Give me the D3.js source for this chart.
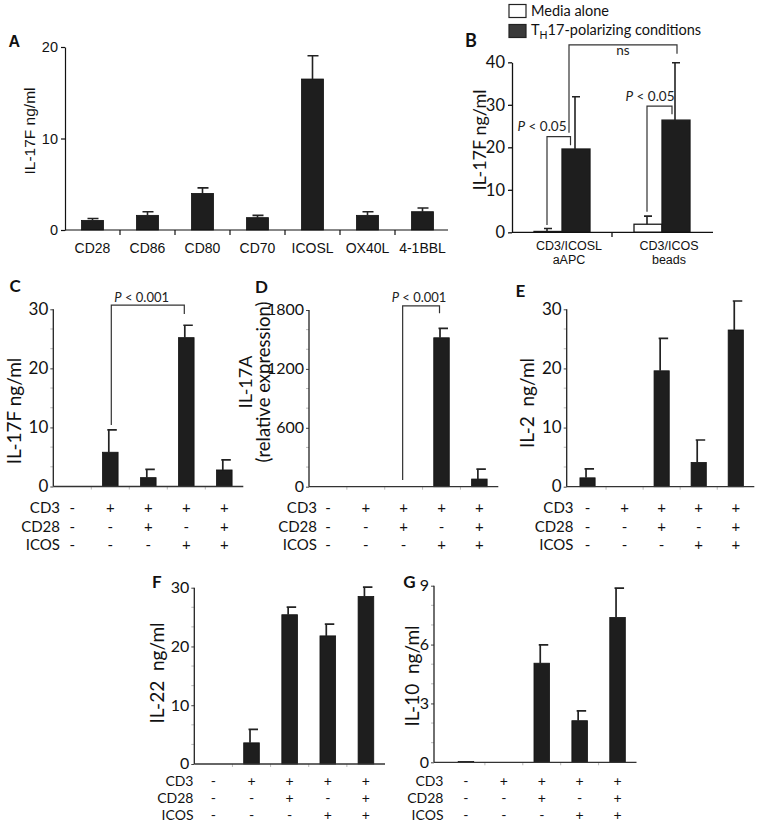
<!DOCTYPE html>
<html><head><meta charset="utf-8">
<script src="https://cdn.jsdelivr.net/npm/d3@7"></script>
<style>body{margin:0;background:#fff} svg{display:block}</style>
</head><body>
<svg id="c" width="758" height="824"></svg>
<script>
// ---------- DATA ----------
const aCategories = ["CD28","CD86","CD80","CD70","ICOSL","OX40L","4-1BBL"];
const aValues = [1.05, 1.6, 4.0, 1.35, 16.5, 1.6, 2.0];
const aErrTop = [1.25, 2.0, 4.6, 1.6, 19.05, 2.0, 2.4];
const aTicks = [0, 10, 20];

const bGroups = ["CD3/ICOSL|aAPC", "CD3/ICOS|beads"];
const bSeries = ["Media alone", "TH17-polarizing conditions"];
const bMedia = [0.2, 1.9];
const bMediaErrTop = [0.9, 3.8];
const bTh17 = [19.6, 26.4];
const bTh17ErrTop = [31.9, 39.9];
const bTicks = [0, 10, 20, 30, 40];

const conditions = ["c1","c2","c3","c4","c5"];
const rowNames = ["CD3","CD28","ICOS"];
const rowCD3  = ["-","+","+","+","+"];
const rowCD28 = ["-","-","+","-","+"];
const rowICOS = ["-","-","-","+","+"];

const cValues = [0, 5.8, 1.5, 25.2, 2.8];
const cErrTop = [0, 9.6, 2.9, 27.3, 4.5];
const cTicks = [0, 10, 20, 30];

const dValues = [0, 0, 0, 1517, 78];
const dErrTop = [0, 0, 0, 1613, 180];
const dTicks = [0, 600, 1200, 1800];

const eValues = [1.5, 0, 19.6, 4.1, 26.5];
const eErrTop = [3.0, 0, 25.1, 7.9, 31.4];
const eTicks = [0, 10, 20, 30];

const fValues = [0, 3.6, 25.4, 21.8, 28.5];
const fErrTop = [0, 5.9, 26.7, 23.8, 30.1];
const fTicks = [0, 10, 20, 30];

const gValues = [0.04, 0, 5.05, 2.12, 7.38];
const gErrTop = [0, 0, 5.98, 2.62, 8.88];
const gTicks = [0, 3, 6, 9];

// ---------- STYLE ----------
const svg = d3.select("#c");
const MY = "Lato, 'Open Sans', sans-serif";
const AR = "'Liberation Sans', Arial, sans-serif";
const BAR = "#1e1e1e";
const INK = "#222";

svg.append("rect").attr("width",758).attr("height",824).attr("fill","#fff");

function letter(t, x, y, font, size) {
  svg.append("text").attr("x", x).attr("y", y).text(t)
    .attr("font-family", font).attr("font-size", size).attr("font-weight", "bold").attr("fill", "#111");
}
function bracket(g, xL, yLb, yTop, xR, yRb) {
  g.append("path").attr("d", `M${xL},${yLb}V${yTop}H${xR}V${yRb}`)
    .attr("fill","none").attr("stroke","#333").attr("stroke-width",1.2);
}
function pText(g, x, y, rest, size) {
  const t = g.append("text").attr("x", x).attr("y", y).attr("text-anchor","middle")
    .attr("font-family", MY).attr("font-size", size).attr("fill", INK);
  t.append("tspan").attr("font-style","italic").text("P");
  t.append("tspan").text(rest);
}

// ---------- PANEL A ----------
(function(){
  const g = svg.append("g");
  const x = d3.scaleBand(aCategories, [65, 450]).paddingInner(0.6).paddingOuter(0.3);
  const y = d3.scaleLinear([0, 20], [230, 47]);
  g.selectAll("rect.bar").data(aCategories).join("rect")
    .attr("x", d => x(d)).attr("width", x.bandwidth())
    .attr("y", (d,i) => y(aValues[i])).attr("height", (d,i) => y(0) - y(aValues[i]))
    .attr("fill", BAR).attr("stroke", "#111").attr("stroke-width", 0.8);
  aCategories.forEach((d,i) => {
    const cx = x(d) + x.bandwidth()/2;
    g.append("path").attr("d", `M${cx},${y(aValues[i])}V${y(aErrTop[i])}M${cx-5},${y(aErrTop[i])}H${cx+6}`)
      .attr("stroke", INK).attr("stroke-width", 1.6).attr("fill","none");
  });
  const ya = g.append("g").attr("transform","translate(65,0)")
    .call(d3.axisLeft(y).tickValues(aTicks).tickSize(4).tickSizeOuter(0).tickPadding(3));
  ya.selectAll("text").attr("font-family", AR).attr("font-size", 14.5).attr("fill","#111");
  ya.selectAll("line,path").attr("stroke","#111").attr("stroke-width",1.2);
  const xa = g.append("g").attr("transform","translate(0,230)")
    .call(d3.axisBottom(x).tickSize(0).tickPadding(13));
  xa.select("path").remove();
  xa.selectAll("text").attr("font-family", AR).attr("font-size", 14).attr("fill","#111");
  g.append("line").attr("x1",65).attr("x2",448).attr("y1",230).attr("y2",230).attr("stroke","#111").attr("stroke-width",1.2);
  aCategories.slice(1).forEach(d => {
    const xx = x(d) + x.bandwidth()/2 - x.step()/2;
    g.append("line").attr("x1",xx).attr("x2",xx).attr("y1",230).attr("y2",235).attr("stroke","#111").attr("stroke-width",1.2);
  });
  g.append("text").attr("transform","translate(34.5,131) rotate(-90)").attr("text-anchor","middle")
    .attr("font-family", AR).attr("font-size", 15.5).attr("fill","#111").text("IL-17F ng/ml");
  letter("A", 8.5, 46.7, AR, 16);
})();

// ---------- PANEL B ----------
(function(){
  const g = svg.append("g");
  const x0 = d3.scaleBand(bGroups, [512, 712]).paddingInner(0.44).paddingOuter(0.22);
  const x1 = d3.scaleBand(bSeries, [0, x0.bandwidth()]);
  const y = d3.scaleLinear([0, 40], [232.3, 62.3]);
  const series = [
    {name: bSeries[0], vals: bMedia, errs: bMediaErrTop, fill: "#fff"},
    {name: bSeries[1], vals: bTh17, errs: bTh17ErrTop, fill: BAR}
  ];
  series.forEach(s => {
    bGroups.forEach((grp, i) => {
      const bx = x0(grp) + x1(s.name);
      const cx = bx + x1.bandwidth()/2;
      g.append("rect").attr("x", bx).attr("width", x1.bandwidth())
        .attr("y", y(s.vals[i])).attr("height", y(0) - y(s.vals[i]))
        .attr("fill", s.fill).attr("stroke", "#1a1a1a").attr("stroke-width", 1.3);
      g.append("path").attr("d", `M${cx-1},${y(s.vals[i])}V${y(s.errs[i])}M${cx-4},${y(s.errs[i])}H${cx+4}`)
        .attr("stroke", INK).attr("stroke-width", 1.6).attr("fill","none");
    });
  });
  const ya = g.append("g").attr("transform","translate(512,0)")
    .call(d3.axisLeft(y).tickValues(bTicks).tickSize(4).tickSizeOuter(0).tickPadding(3));
  ya.selectAll("text").attr("font-family", MY).attr("font-size", 16.5).attr("fill","#111");
  ya.selectAll("line,path").attr("stroke","#111").attr("stroke-width",1.3);
  g.append("line").attr("x1",512).attr("x2",713).attr("y1",232.3).attr("y2",232.3).attr("stroke","#111").attr("stroke-width",1.3);
  const mid = x0(bGroups[1]) - x0.step()*x0.paddingInner()/2;
  g.append("line").attr("x1",mid).attr("x2",mid).attr("y1",232.3).attr("y2",237).attr("stroke","#111").attr("stroke-width",1.3);
  bGroups.forEach(grp => {
    const cx = x0(grp) + x0.bandwidth()/2 + 7;
    const lines = grp.split("|");
    lines.forEach((ln, k) => {
      g.append("text").attr("x", cx).attr("y", 250 + k*14).attr("text-anchor","middle")
        .attr("font-family", AR).attr("font-size", 12.5).attr("fill","#111").text(ln);
    });
  });
  // brackets
  const wx = i => x0(bGroups[i]) + x1(bSeries[0]) + x1.bandwidth()/2;
  const bxx = i => x0(bGroups[i]) + x1(bSeries[1]) + x1.bandwidth()/2;
  bracket(g, wx(0)-1, y(1.7), y(22.5), bxx(0)-5.5, y(20.5));
  pText(g, 542, 130.7, " < 0.05", 13.5);
  bracket(g, bxx(0)-7, y(23.4), y(44.1), bxx(1)+1, y(42.0));
  g.append("text").attr("x", 623).attr("y", 55).attr("text-anchor","middle")
    .attr("font-family", MY).attr("font-size", 13.5).attr("fill", INK).text("ns");
  bracket(g, wx(1)-1, y(4.85), y(29.7), bxx(1)-4, y(27.8));
  pText(g, 650, 101, " < 0.05", 13.5);
  // y label
  g.append("text").attr("transform","translate(486,140) rotate(-90)").attr("text-anchor","middle")
    .attr("font-family", MY).attr("font-size", 18).attr("fill","#111").text("IL-17F ng/ml");
  // legend
  g.append("rect").attr("x",509).attr("y",4.5).attr("width",17).attr("height",13)
    .attr("fill","#fff").attr("stroke","#222").attr("stroke-width",1.2);
  g.append("rect").attr("x",509).attr("y",24.5).attr("width",17).attr("height",13)
    .attr("fill","#3a3a3a").attr("stroke","#222").attr("stroke-width",1.2);
  g.append("text").attr("x",531).attr("y",15.5).attr("font-family",MY).attr("font-size",14.5).attr("fill","#111").text(bSeries[0]);
  const t2 = g.append("text").attr("x",531).attr("y",35).attr("font-family",MY).attr("font-size",14.5).attr("fill","#111");
  t2.append("tspan").text("T");
  t2.append("tspan").attr("dy",4).attr("font-size",10.5).text("H");
  t2.append("tspan").attr("dy",-4).text("17-polarizing conditions");
  letter("B", 465, 46.7, MY, 18);
})();

// ---------- STANDARD PANELS C-G ----------
function stdPanel(o) {
  const g = svg.append("g");
  const x = d3.scaleBand(conditions, [o.xs, o.xe]).paddingInner(0.59).paddingOuter(0.295);
  const y = d3.scaleLinear([0, o.max], [o.y0, o.yTop]);
  const step = o.ticks[1] - o.ticks[0];
  for (let k = 1; k < (o.ticks.length - 1) * 3; k++) {
    if (k % 3 === 0) continue;
    const yy = y(k * step / 3);
    g.append("line").attr("x1", o.ax - 3).attr("x2", o.ax).attr("y1", yy).attr("y2", yy)
      .attr("stroke", "#bbb").attr("stroke-width", 1);
  }
  conditions.slice(1).forEach(c => {
    const xx = x(c) + x.bandwidth()/2 - x.step()/2;
    g.append("line").attr("x1", xx).attr("x2", xx).attr("y1", o.y0).attr("y2", o.y0 + 3)
      .attr("stroke", "#bbb").attr("stroke-width", 1);
  });
  conditions.forEach((c, i) => {
    const v = o.values[i];
    if (v <= 0) return;
    g.append("rect").attr("x", x(c)).attr("width", x.bandwidth())
      .attr("y", y(v)).attr("height", Math.max(1, y(0) - y(v)))
      .attr("fill", BAR).attr("stroke", "#111").attr("stroke-width", 0.8);
    const e = o.errs[i];
    if (e > v) {
      const cx = x(c) + x.bandwidth()/2;
      g.append("path").attr("d", `M${cx-1.5},${y(v)}V${y(e)}M${cx-3},${y(e)}H${cx+6.5}`)
        .attr("stroke", INK).attr("stroke-width", 1.7).attr("fill","none");
    }
  });
  const ya = g.append("g").attr("transform", `translate(${o.ax},0)`)
    .call(d3.axisLeft(y).tickValues(o.ticks).tickFormat(d3.format("d")).tickSize(3).tickSizeOuter(0).tickPadding(2));
  ya.select("path").remove();
  ya.selectAll("text").attr("font-family", MY).attr("font-size", o.tickFont || 17).attr("dy", "0.3em").attr("fill", "#111");
  ya.selectAll("line").attr("stroke", "#444");
  g.append("line").attr("x1", o.ax).attr("x2", o.ax).attr("y1", o.y0).attr("y2", o.yTop)
    .attr("stroke", "#222").attr("stroke-width", 1.3);
  g.append("line").attr("x1", o.ax).attr("x2", o.xe).attr("y1", o.y0).attr("y2", o.y0)
    .attr("stroke", "#333").attr("stroke-width", 1.3);
  const rows = [rowCD3, rowCD28, rowICOS];
  const rf = o.rowFont || 15;
  rows.forEach((r, k) => {
    const by = o.rowBase + k * o.rowStep;
    g.append("text").attr("x", o.rowRight).attr("y", by).attr("text-anchor", "end")
      .attr("font-family", MY).attr("font-size", rf).attr("fill", "#111").text(rowNames[k]);
    conditions.forEach((c, i) => {
      g.append("text").attr("x", x(c) + x.bandwidth()/2).attr("y", by).attr("text-anchor", "middle")
        .attr("font-family", MY).attr("font-size", rf).attr("fill", "#111").text(r[i]);
    });
  });
  o.labels.forEach(L => {
    g.append("text").attr("transform", `translate(${L.x},${L.y}) rotate(-90)`).attr("text-anchor", "middle")
      .attr("font-family", MY).attr("font-size", L.size || 19).attr("fill", "#111")
      .style("white-space", "pre").text(L.t);
  });
  return {g, x, y};
}

// C
(function(){
  const p = stdPanel({xs:53.3, xe:243.3, ax:53.3, y0:486.5, yTop:309.3, max:30, ticks:cTicks,
    values:cValues, errs:cErrTop, rowBase:513.3, rowStep:18.3, rowRight:60,
    labels:[{t:"IL-17F ng/ml", x:21, y:411}]});
  const cx = i => p.x(conditions[i]) + p.x.bandwidth()/2;
  bracket(p.g, cx(1)+1, p.y(10.4), p.y(30.7), cx(3)-2, p.y(29.2));
  pText(p.g, 141.7, 301.7, " < 0.001", 13);
  letter("C", 9.5, 291.7, MY, 17);
})();
// D
(function(){
  const p = stdPanel({xs:309, xe:498.3, ax:309, y0:486.7, yTop:310, max:1800, ticks:dTicks,
    values:dValues, errs:dErrTop, rowBase:513.3, rowStep:18.3, rowRight:317, tickFont:16,
    labels:[{t:"IL-17A", x:252, y:382, size:18}, {t:"(relative expression)", x:269.5, y:382, size:18.5}]});
  const cx = i => p.x(conditions[i]) + p.x.bandwidth()/2;
  bracket(p.g, cx(2)-1, p.y(68), p.y(1843), cx(3)-2, p.y(1766));
  pText(p.g, 419, 301.7, " < 0.001", 13);
  letter("D", 255, 293.3, MY, 17);
})();
// E
(function(){
  stdPanel({xs:569, xe:754.3, ax:566.7, y0:486.7, yTop:309.3, max:30, ticks:eTicks,
    values:eValues, errs:eErrTop, rowBase:513.3, rowStep:18.3, rowRight:573.5,
    labels:[{t:"IL-2  ng/ml", x:534, y:403}]});
  letter("E", 515.5, 296.7, MY, 17);
})();
// F
(function(){
  stdPanel({xs:194.3, xe:385, ax:194.3, y0:764, yTop:587.7, max:30, ticks:fTicks, tickFont:16,
    values:fValues, errs:fErrTop, rowBase:786, rowStep:17.2, rowFont:14, rowRight:193.5,
    labels:[{t:"IL-22  ng/ml", x:164, y:673}]});
  letter("F", 152, 588, MY, 17);
})();
// G
(function(){
  stdPanel({xs:447, xe:636.5, ax:434, y0:762.3, yTop:585.7, max:9, ticks:gTicks, tickFont:16,
    values:gValues, errs:gErrTop, rowBase:786, rowStep:17.2, rowFont:14, rowRight:443.5,
    labels:[{t:"IL-10  ng/ml", x:419, y:676}]});
  letter("G", 403.3, 588.3, MY, 17);
})();
</script>
</body></html>
